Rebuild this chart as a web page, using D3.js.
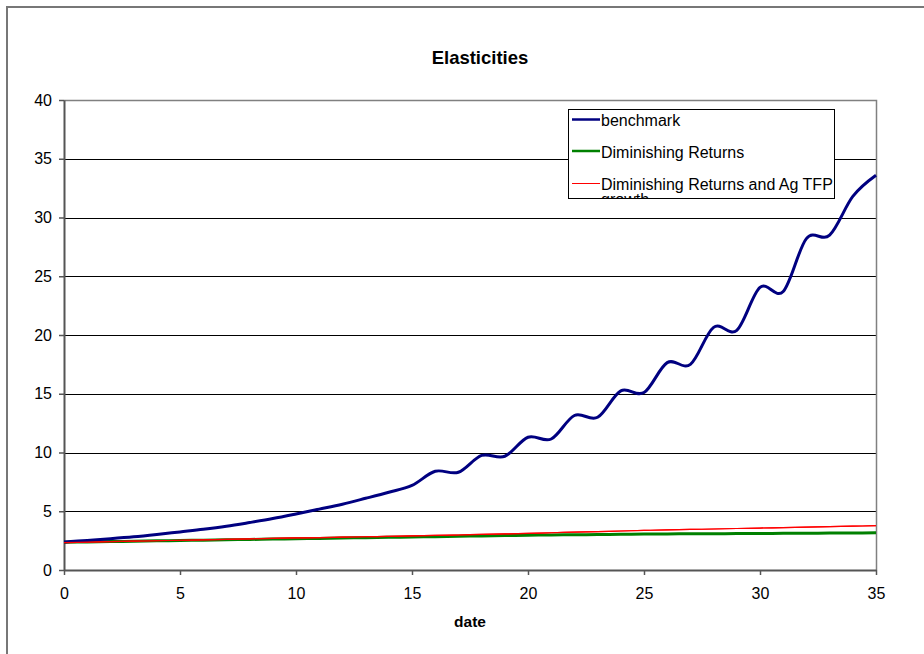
<!DOCTYPE html>
<html>
<head>
<meta charset="utf-8">
<script src="https://cdn.jsdelivr.net/npm/d3@7"></script>
<style>
  html, body { margin: 0; padding: 0; background: #fff; }
  svg { display: block; }
  text { font-family: "Liberation Sans", Arial, sans-serif; }
</style>
</head>
<body>
<svg id="chart" width="924" height="654"></svg>
<script>
// Years on the x axis
const dates = d3.range(0, 36);

// Elasticity paths, one value per year
const benchmark = [
  2.38, 2.52, 2.66, 2.82, 3.02, 3.24, 3.46, 3.72, 4.04, 4.38,
  4.77, 5.18, 5.60, 6.10, 6.62, 7.20, 8.40, 8.32, 9.75, 9.68,
  11.30, 11.15, 13.15, 13.00, 15.25, 15.10, 17.65, 17.50, 20.65, 20.40,
  24.05, 23.70, 28.20, 28.50, 31.80, 33.60
];
const diminishing = [
  2.36, 2.39, 2.42, 2.45, 2.48, 2.51, 2.54, 2.57, 2.60, 2.63,
  2.66, 2.69, 2.72, 2.75, 2.78, 2.81, 2.84, 2.87, 2.90, 2.93,
  2.96, 2.98, 3.00, 3.02, 3.04, 3.06, 3.07, 3.08, 3.09, 3.10,
  3.11, 3.12, 3.13, 3.14, 3.15, 3.16
];
const diminishingTfp = [
  2.33, 2.37, 2.41, 2.45, 2.49, 2.53, 2.57, 2.61, 2.65, 2.69,
  2.73, 2.76, 2.79, 2.83, 2.86, 2.90, 2.94, 2.98, 3.03, 3.07,
  3.12, 3.17, 3.22, 3.27, 3.32, 3.37, 3.41, 3.45, 3.49, 3.53,
  3.57, 3.61, 3.65, 3.69, 3.73, 3.77
];

const xTicks = [0, 5, 10, 15, 20, 25, 30, 35];
const yTicks = [0, 5, 10, 15, 20, 25, 30, 35, 40];

const seriesNames = ["benchmark", "Diminishing Returns", "Diminishing Returns and Ag TFP growth"];
const seriesValues = [benchmark, diminishing, diminishingTfp];
const seriesColors = ["#000080", "#008000", "#ff0000"];
const seriesWidths = [3, 3, 1.2];

const svg = d3.select("#chart");

// Chart frame
svg.append("rect")
  .attr("x", 7).attr("y", 7)
  .attr("width", 960).attr("height", 700)
  .attr("fill", "#fff")
  .attr("stroke", "#777").attr("stroke-width", 2);

const plot = { left: 64, right: 876, top: 100, bottom: 570 };

const x = d3.scaleLinear().domain([0, 35]).range([plot.left, plot.right]);
const y = d3.scaleLinear().domain([0, 40]).range([plot.bottom, plot.top]);

// Horizontal gridlines
svg.append("g")
  .selectAll("line")
  .data(yTicks.filter(v => v > 0 && v < 40))
  .join("line")
  .attr("x1", plot.left).attr("x2", plot.right)
  .attr("y1", d => Math.round(y(d)) + 0.5).attr("y2", d => Math.round(y(d)) + 0.5)
  .attr("stroke", "#000").attr("stroke-width", 1);

// Plot area border on top and right
svg.append("path")
  .attr("d", `M${plot.left},${plot.top + 0.5}H${plot.right + 0.5}V${plot.bottom}`)
  .attr("fill", "none")
  .attr("stroke", "#808080").attr("stroke-width", 1.5);

// Axes
const yAxis = svg.append("g")
  .attr("transform", `translate(${plot.left},0)`)
  .call(d3.axisLeft(y).tickValues(yTicks).tickSize(5).tickPadding(7).tickSizeOuter(0));
const xAxis = svg.append("g")
  .attr("transform", `translate(0,${plot.bottom})`)
  .call(d3.axisBottom(x).tickValues(xTicks).tickSize(5).tickPadding(13).tickSizeOuter(0));

[xAxis, yAxis].forEach(g => {
  g.select(".domain").attr("stroke", "#555").attr("stroke-width", 2);
  g.selectAll(".tick line").attr("stroke", "#555").attr("stroke-width", 1.5);
  g.selectAll(".tick text")
    .attr("fill", "#000")
    .style("font-family", "'Liberation Sans', Arial, sans-serif")
    .style("font-size", "16px");
});

// Series lines, smoothed
const line = d3.line()
  .x((d, i) => x(dates[i]))
  .y(d => y(d))
  .curve(d3.curveCatmullRom.alpha(0));

// Green first, then red, then the benchmark on top
[1, 2, 0].forEach(k => {
  svg.append("path")
    .datum(seriesValues[k])
    .attr("d", line)
    .attr("fill", "none")
    .attr("stroke", seriesColors[k])
    .attr("stroke-width", seriesWidths[k])
    .attr("stroke-linejoin", "round");
});
// Keep the red line visible above the others near the origin
svg.append("path")
  .datum(diminishingTfp)
  .attr("d", line)
  .attr("fill", "none")
  .attr("stroke", seriesColors[2])
  .attr("stroke-width", seriesWidths[2]);

// Title and axis label
svg.append("text")
  .attr("x", 480).attr("y", 63.5)
  .attr("text-anchor", "middle")
  .style("font-size", "18.5px").style("font-weight", "bold")
  .text("Elasticities");

svg.append("text")
  .attr("x", 470).attr("y", 626.5)
  .attr("text-anchor", "middle")
  .style("font-size", "15.5px").style("font-weight", "bold")
  .text("date");

// Legend
const lg = { x: 568.5, y: 109.5, w: 266, h: 89 };
svg.append("clipPath").attr("id", "legend-clip")
  .append("rect").attr("x", lg.x).attr("y", lg.y).attr("width", lg.w).attr("height", lg.h);

const legend = svg.append("g");
legend.append("rect")
  .attr("x", lg.x).attr("y", lg.y).attr("width", lg.w).attr("height", lg.h)
  .attr("fill", "#fff").attr("stroke", "#000").attr("stroke-width", 1);

const rowY = [119.5, 151, 183.5];
const items = legend.append("g").attr("clip-path", "url(#legend-clip)");
seriesNames.forEach((name, k) => {
  items.append("line")
    .attr("x1", 572).attr("x2", 600)
    .attr("y1", rowY[k]).attr("y2", rowY[k])
    .attr("stroke", seriesColors[k])
    .attr("stroke-width", seriesWidths[k] === 3 ? 2.5 : 1);
  const t = items.append("text")
    .attr("x", 601).attr("y", rowY[k] + 6.5)
    .style("font-size", "16px");
  if (k === 2) {
    t.append("tspan").attr("x", 601).text("Diminishing Returns and Ag TFP");
    t.append("tspan").attr("x", 601).attr("dy", 15).text("growth");
  } else {
    t.text(name);
  }
});
</script>
</body>
</html>
